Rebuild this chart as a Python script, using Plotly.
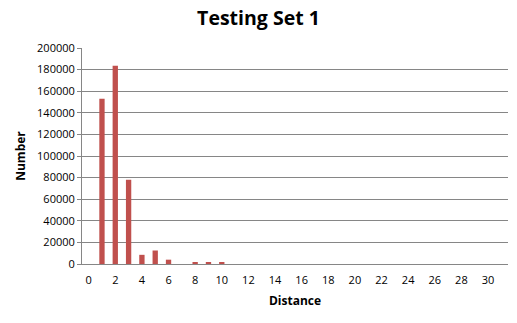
import plotly.graph_objects as go

distance = list(range(0, 32))
counts = [0, 153000, 183500, 78000, 8500, 12500, 4000, 0, 1000, 1000, 1000] + [0] * 21
tick_vals = list(range(0, 31, 2))
tick_text = [str(v) for v in tick_vals]

fig = go.Figure(go.Bar(x=distance, y=counts, marker_color="#C0504D", marker_line_width=0))
fig.update_layout(
    width=517, height=323,
    margin=dict(l=82, r=9, t=48, b=59),
    paper_bgcolor="white", plot_bgcolor="white",
    bargap=0.6,
    showlegend=False,
    font=dict(family="Open Sans, DejaVu Sans, sans-serif", size=11, color="black"),
    title=dict(text="<b>Testing Set 1</b>", x=0.5, xanchor="center", y=0.945, yanchor="middle",
               font=dict(size=19.5, family="Open Sans, sans-serif", color="black")),
)
fig.update_xaxes(
    range=[-0.5, 31.5], tickmode="array", tickvals=tick_vals, ticktext=tick_text,
    showline=True, linecolor="#868686", linewidth=1, showgrid=False, ticks="",
    tickfont=dict(size=11), ticklabelstandoff=6,
    title=dict(text="<b>Distance</b>", font=dict(size=12), standoff=10),
)
fig.update_yaxes(
    range=[0, 200000], tickmode="linear", tick0=0, dtick=20000, tickformat="d",
    showline=True, linecolor="#868686", linewidth=1,
    showgrid=True, gridcolor="#868686", gridwidth=1,
    ticks="outside", ticklen=4, tickcolor="#868686",
    tickfont=dict(size=11), zeroline=False,
    title=dict(text="<b>Number</b>", font=dict(size=12), standoff=8),
)
fig.write_html("out.html")
